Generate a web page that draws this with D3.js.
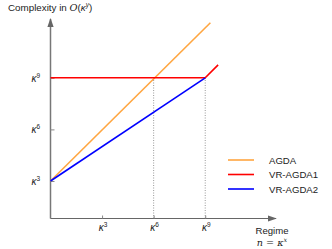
<!DOCTYPE html>
<html>
<head>
<meta charset="utf-8">
<script src="https://cdn.jsdelivr.net/npm/d3@7"></script>
<style>
  body { margin: 0; background: #fff; }
  svg { display: block; font-family: "Liberation Sans", Arial, sans-serif; }
</style>
</head>
<body>
<div id="chart"></div>
<script>
// exponents of kappa
const xTicks = [3, 6, 9];
const yTicks = [3, 6, 9];
const seriesNames = ["AGDA", "VR-AGDA1", "VR-AGDA2"];
const seriesColors = ["#ffa640", "#ff0000", "#0000ff"];
const agda = [[0, 3], [9.3, 12.2]];
const vrAgda1 = [[0, 9], [9, 9], [9.75, 9.75]];
const vrAgda2 = [[0, 3], [9, 9]];
const guides = [6, 9];   // dotted drop lines up to the kappa^9 level

const W = 332, H = 249;
const svg = d3.select("#chart").append("svg")
    .attr("width", W).attr("height", H);

const x = d3.scaleLinear().domain([0, 13]).range([50.5, 274]);
const y = d3.scaleLinear().domain([0, 12]).range([232.6, 26.2]);
const x0 = x(0), yBase = 218.5, yTop = 19;

const defs = svg.append("defs");
defs.append("marker")
    .attr("id", "arrow")
    .attr("viewBox", "0 0 10 10")
    .attr("refX", 9).attr("refY", 5)
    .attr("markerWidth", 9).attr("markerHeight", 9)
    .attr("markerUnits", "userSpaceOnUse")
    .attr("orient", "auto")
    .append("path")
    .attr("d", "M0,1.5 L10,5 L0,8.5 Z")
    .attr("fill", "#666");

// dotted guides
guides.forEach(g => {
    svg.append("line")
        .attr("x1", x(g)).attr("x2", x(g))
        .attr("y1", yBase).attr("y2", y(9))
        .attr("stroke", "#999")
        .attr("stroke-width", 1)
        .attr("stroke-dasharray", "1,1.5");
});

// axes
svg.append("line")
    .attr("x1", x0).attr("x2", x0)
    .attr("y1", yBase).attr("y2", yTop)
    .attr("stroke", "#777").attr("stroke-width", 1.5)
    .attr("marker-end", "url(#arrow)");
svg.append("line")
    .attr("x1", x0).attr("x2", 276)
    .attr("y1", yBase).attr("y2", yBase)
    .attr("stroke", "#666").attr("stroke-width", 1.2)
    .attr("marker-end", "url(#arrow)");

const xAxis = svg.append("g")
    .attr("transform", `translate(0,${yBase})`)
    .call(d3.axisBottom(x).tickValues(xTicks).tickSize(-3).tickSizeOuter(0).tickFormat(""));
const yAxis = svg.append("g")
    .attr("transform", `translate(${x0},0)`)
    .call(d3.axisLeft(y).tickValues(yTicks).tickSize(-4).tickSizeOuter(0).tickFormat(""));
[xAxis, yAxis].forEach(a => {
    a.select(".domain").remove();
    a.selectAll(".tick line").attr("stroke", "#888");
});

function kappa(sel, exp) {
    sel.append("tspan").attr("font-style", "italic").text("κ");
    sel.append("tspan").attr("font-size", "6.5px").attr("dy", "-4").text(exp);
}

xTicks.forEach(t => {
    const tx = svg.append("text")
        .attr("x", x(t) + 1).attr("y", 231)
        .attr("text-anchor", "middle")
        .attr("font-size", "10px").attr("fill", "#222");
    kappa(tx, t);
});
yTicks.forEach(t => {
    const ty = svg.append("text")
        .attr("x", 40).attr("y", y(t) + 4)
        .attr("text-anchor", "end")
        .attr("font-size", "10px").attr("fill", "#222");
    kappa(ty, t);
});

// series
const line = d3.line().x(d => x(d[0])).y(d => y(d[1]));
[agda, vrAgda1, vrAgda2].forEach((s, i) => {
    svg.append("path")
        .datum(s)
        .attr("d", line)
        .attr("fill", "none")
        .attr("stroke", seriesColors[i])
        .attr("stroke-width", 1.6);
});

// legend
seriesNames.forEach((n, i) => {
    const ly = 160 + i * 14.5;
    svg.append("line")
        .attr("x1", 228).attr("x2", 254)
        .attr("y1", ly).attr("y2", ly)
        .attr("stroke", seriesColors[i]).attr("stroke-width", 1.6);
    svg.append("text")
        .attr("x", 269).attr("y", ly + 3.5)
        .attr("font-size", "9.6px").attr("fill", "#222")
        .text(n);
});

// titles
const title = svg.append("text")
    .attr("x", 8).attr("y", 11)
    .attr("font-size", "9.8px").attr("fill", "#222");
title.append("tspan").text("Complexity in ");
title.append("tspan").attr("font-style", "italic")
    .attr("font-family", "DejaVu Serif, serif").text("O");
title.append("tspan").text("(");
title.append("tspan").attr("font-style", "italic").text("κ");
title.append("tspan").attr("font-size", "6.5px").attr("dy", "-4").attr("font-style", "italic").text("y");
title.append("tspan").attr("dy", "4").text(")");

svg.append("text")
    .attr("x", 272).attr("y", 234)
    .attr("text-anchor", "middle")
    .attr("font-size", "9.6px").attr("fill", "#222")
    .text("Regime");
const reg = svg.append("text")
    .attr("x", 272).attr("y", 246)
    .attr("text-anchor", "middle")
    .attr("font-size", "9.6px").attr("fill", "#222")
    .attr("font-family", "DejaVu Serif, serif");
reg.append("tspan").attr("font-style", "italic").text("n");
reg.append("tspan").text(" = ");
reg.append("tspan").attr("font-style", "italic").text("κ");
reg.append("tspan").attr("font-size", "6.5px").attr("dy", "-4").attr("font-style", "italic").text("x");
</script>
</body>
</html>
